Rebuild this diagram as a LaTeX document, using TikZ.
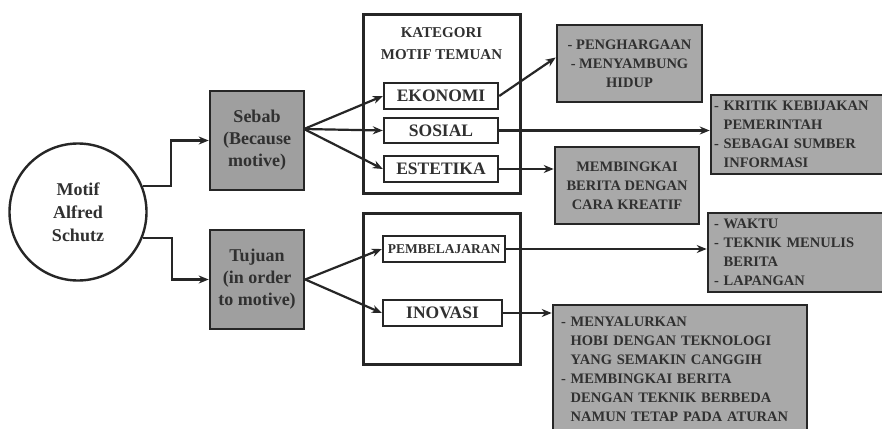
\documentclass[tikz,border=0pt]{standalone}
\usepackage{fontspec}
\setmainfont{Liberation Serif}
\usetikzlibrary{arrows.meta}
\definecolor{abu}{HTML}{A9A9A9}
\definecolor{abutua}{HTML}{9F9F9F}
\definecolor{tinta}{HTML}{303030}

\begin{document}
\begin{tikzpicture}[x=1pt,y=-1pt,
  kotak/.style={draw=black!85,line width=2.6pt,fill=abu,text=tinta,inner sep=0pt,
    font=\bfseries\fontsize{14.5}{19}\selectfont},
  kotakkecil/.style={draw=black!85,line width=2.4pt,fill=white,text=tinta,inner sep=0pt,
    font=\bfseries\fontsize{17.5}{20}\selectfont},
  bingkai/.style={draw=black!85,line width=3pt,fill=white,inner sep=0pt},
  panah/.style={draw=black!85,line width=2.2pt,-{Stealth[length=10pt,width=8pt]}}]

\clip (0,0) rectangle (882,428);
\fill[white] (0,0) rectangle (882,428);

% Motif Alfred Schutz
\node[circle,draw=black!85,line width=2.4pt,fill=white,minimum size=137pt,
  align=center,text=tinta,font=\bfseries\fontsize{18}{23}\selectfont]
  (motif) at (78,212) {Motif\\Alfred\\Schutz};

\node[kotak,fill=abutua,minimum width=94pt,minimum height=99pt,align=center,
  font=\bfseries\fontsize{18}{22}\selectfont]
  (sebab) at (257,140.5) {Sebab\\(Because\\motive)};
\node[kotak,fill=abutua,minimum width=94pt,minimum height=99pt,align=center,
  font=\bfseries\fontsize{18}{22}\selectfont]
  (tujuan) at (257,279.5) {Tujuan\\(in order\\to motive)};

\draw[panah] (motif.22) -- ++(28,0) |- (sebab.west);
\draw[panah] (motif.-22) -- ++(29,0) |- (tujuan.west);

% Kategori motif temuan
\node[bingkai,minimum width=157pt,minimum height=178pt] (bingkaiA) at (441.5,104) {};
\node[align=center,text=tinta,font=\bfseries\fontsize{15}{22}\selectfont]
  (judul) at (441.5,44) {KATEGORI\\MOTIF TEMUAN};

\node[kotakkecil,minimum width=114pt,minimum height=26pt] (ekonomi) at (441,96) {EKONOMI};
\node[kotakkecil,minimum width=114pt,minimum height=25pt] (sosial) at (441,130.5) {SOSIAL};
\node[kotakkecil,minimum width=114pt,minimum height=26pt] (estetika) at (441,169) {ESTETIKA};

\node[bingkai,minimum width=157pt,minimum height=151pt] (bingkaiB) at (441.5,288.5) {};
\node[kotakkecil,minimum width=122pt,minimum height=26pt,
  font=\bfseries\fontsize{13.5}{16}\selectfont] (belajar) at (444,249) {PEMBELAJARAN};
\node[kotakkecil,minimum width=119pt,minimum height=26pt] (inovasi) at (442.5,313) {INOVASI};

\coordinate (sebabKanan) at (304,129);
\draw[panah] (sebabKanan) -- (ekonomi.west);
\draw[panah] (sebabKanan) -- (sosial.west);
\draw[panah] (sebabKanan) -- (estetika.west);
\draw[panah] (tujuan.east) -- (belajar.west);
\draw[panah] (tujuan.east) -- (inovasi.west);

% Hasil
\node[kotak,minimum width=145pt,minimum height=77pt,align=center]
  (hargai) at (629.5,63.5) {- PENGHARGAAN\\- MENYAMBUNG\\HIDUP};
\node[kotak,minimum width=174pt,minimum height=79pt,align=left,text width=168pt]
  (kritik) at (798,134.5)
  {- KRITIK KEBIJAKAN\\\hphantom{- }PEMERINTAH\\- SEBAGAI SUMBER\\\hphantom{- }INFORMASI};
\node[kotak,minimum width=144pt,minimum height=77pt,align=center]
  (kreatif) at (627,185.5) {MEMBINGKAI\\BERITA DENGAN\\CARA KREATIF};
\node[kotak,minimum width=177pt,minimum height=79pt,align=left,text width=165pt]
  (waktu) at (796.5,252.5)
  {- WAKTU\\- TEKNIK MENULIS\\\hphantom{- }BERITA\\- LAPANGAN};
\node[kotak,minimum width=254pt,minimum height=128pt,align=left,text width=238pt]
  (salur) at (680,369)
  {- MENYALURKAN\\\hphantom{- }HOBI DENGAN TEKNOLOGI\\\hphantom{- }YANG SEMAKIN CANGGIH\\
   - MEMBINGKAI BERITA\\\hphantom{- }DENGAN TEKNIK BERBEDA\\\hphantom{- }NAMUN TETAP PADA ATURAN};

\draw[panah] (ekonomi.east) -- ([yshift=6pt]hargai.west);
\draw[panah] (sosial.east) -- (kritik.west |- sosial.east);
\draw[panah] (estetika.east) -- (kreatif.west |- estetika.east);
\draw[panah] (belajar.east) -- (waktu.west |- belajar.east);
\draw[panah] (inovasi.east) -- (salur.west |- inovasi.east);

\end{tikzpicture}
\end{document}
